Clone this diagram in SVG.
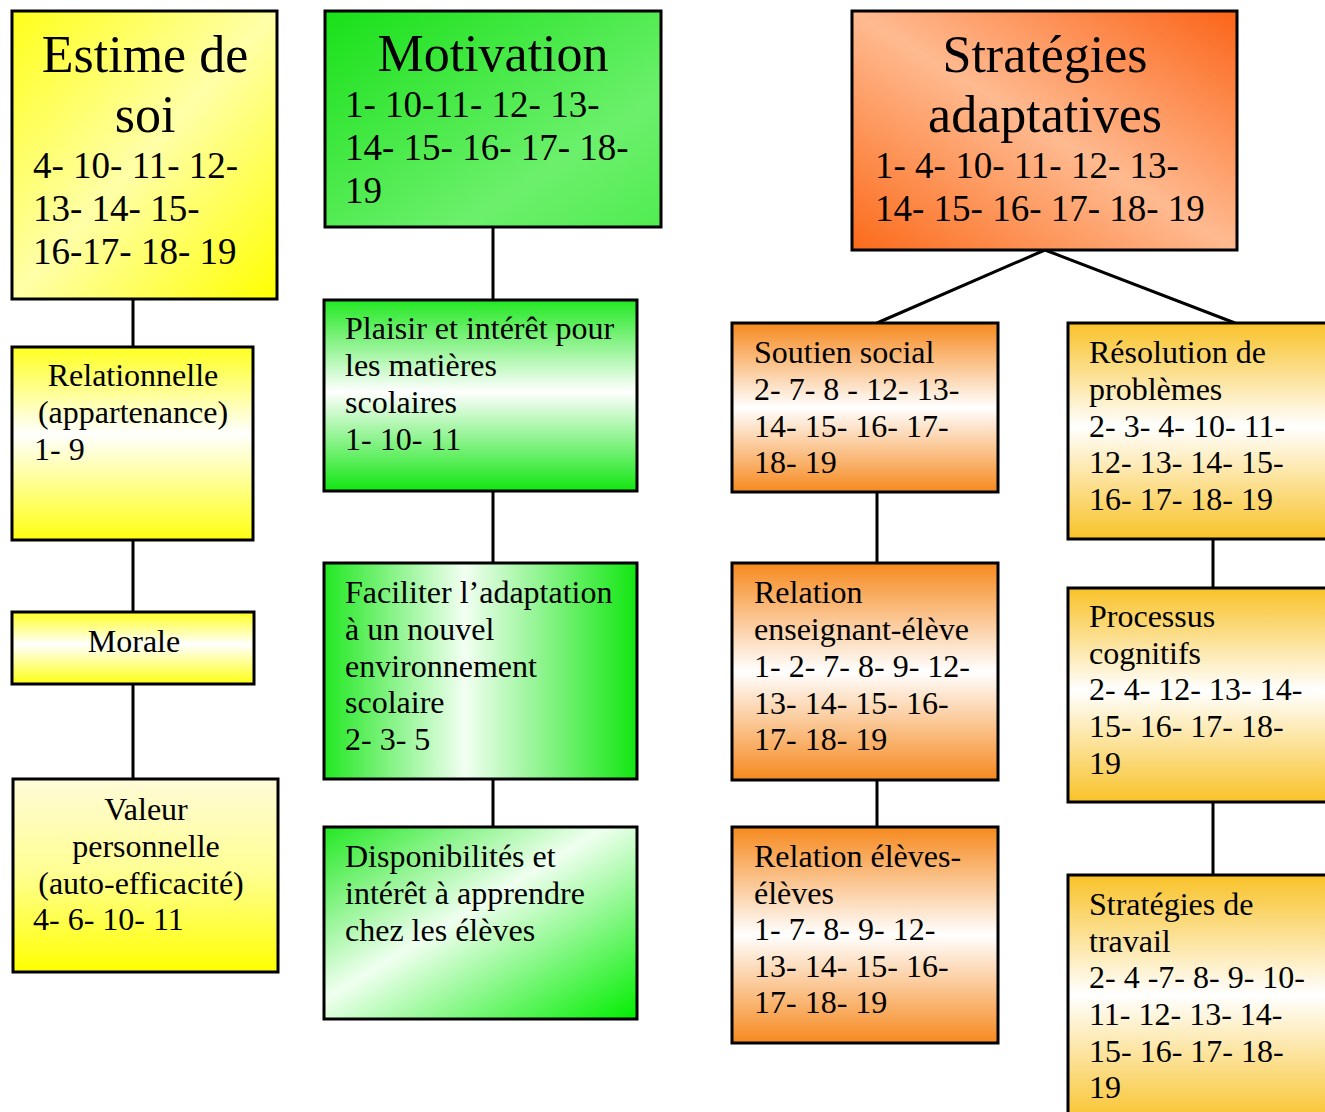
<svg xmlns="http://www.w3.org/2000/svg" width="1325" height="1112" viewBox="0 0 1325 1112">
<style>
.box{stroke:#000;stroke-width:3}
.t{font-family:'Liberation Serif','Times New Roman',Tinos,'DejaVu Serif',serif;fill:#000}
.h{font-size:52px;text-anchor:middle}
.n{font-size:37px}
.s{font-size:32px}
.c{text-anchor:middle}
.ln{stroke:#000;stroke-width:3;fill:none}
</style>
<defs>
<linearGradient id="gEst" x1="0" y1="0" x2="1" y2="1">
<stop offset="0" stop-color="#ffff1a"/><stop offset="0.5" stop-color="#ffffa8"/><stop offset="1" stop-color="#ffff00"/>
</linearGradient>
<linearGradient id="gYv" x1="0" y1="0" x2="0" y2="1">
<stop offset="0" stop-color="#ffff20"/><stop offset="0.45" stop-color="#ffffff"/><stop offset="1" stop-color="#ffff10"/>
</linearGradient>
<linearGradient id="gYdown" x1="0" y1="0" x2="0" y2="1">
<stop offset="0" stop-color="#fffbd8"/><stop offset="0.5" stop-color="#ffff90"/><stop offset="1" stop-color="#ffff00"/>
</linearGradient>
<linearGradient id="gMot" x1="0" y1="0" x2="1" y2="1">
<stop offset="0" stop-color="#18e018"/><stop offset="0.7" stop-color="#6cf06c"/><stop offset="1" stop-color="#50ec50"/>
</linearGradient>
<linearGradient id="gGv" x1="0" y1="0" x2="0" y2="1">
<stop offset="0" stop-color="#22e822"/><stop offset="0.48" stop-color="#ffffff"/><stop offset="1" stop-color="#11e611"/>
</linearGradient>
<linearGradient id="gGh" x1="0" y1="0" x2="1" y2="0">
<stop offset="0" stop-color="#22e822"/><stop offset="0.45" stop-color="#f2fff2"/><stop offset="1" stop-color="#11e611"/>
</linearGradient>
<linearGradient id="gGd" x1="0" y1="0" x2="1" y2="1">
<stop offset="0" stop-color="#22e822"/><stop offset="0.45" stop-color="#f0fff0"/><stop offset="1" stop-color="#00ee00"/>
</linearGradient>
<linearGradient id="gStr" x1="0" y1="1" x2="1" y2="0">
<stop offset="0" stop-color="#fb6a1a"/><stop offset="0.5" stop-color="#ffba90"/><stop offset="1" stop-color="#fb6418"/>
</linearGradient>
<linearGradient id="gOv" x1="0" y1="0" x2="0" y2="1">
<stop offset="0" stop-color="#f6891e"/><stop offset="0.5" stop-color="#ffffff"/><stop offset="1" stop-color="#f6891e"/>
</linearGradient>
<linearGradient id="gGoldv" x1="0" y1="0" x2="0" y2="1">
<stop offset="0" stop-color="#f9c228"/><stop offset="0.48" stop-color="#ffffff"/><stop offset="1" stop-color="#f9c228"/>
</linearGradient>
</defs>
<rect width="1325" height="1112" fill="#ffffff"/>

<g id="connectors">
<line class="ln" x1="133" y1="299" x2="133" y2="347"/>
<line class="ln" x1="133" y1="540" x2="133" y2="612"/>
<line class="ln" x1="133" y1="684" x2="133" y2="779"/>
<line class="ln" x1="493" y1="227" x2="493" y2="300"/>
<line class="ln" x1="493" y1="491" x2="493" y2="563"/>
<line class="ln" x1="493" y1="779" x2="493" y2="827"/>
<line class="ln" x1="1045" y1="250" x2="877" y2="323"/>
<line class="ln" x1="1045" y1="250" x2="1235" y2="323"/>
<line class="ln" x1="877" y1="492" x2="877" y2="563"/>
<line class="ln" x1="877" y1="780" x2="877" y2="827"/>
<line class="ln" x1="1213" y1="539" x2="1213" y2="588"/>
<line class="ln" x1="1213" y1="802" x2="1213" y2="875"/>
</g>

<g id="estime">
<rect class="box" x="12" y="11" width="265" height="288" fill="url(#gEst)"/>
<text class="t h" x="145" y="72">Estime de</text>
<text class="t h" x="145" y="132">soi</text>
<text class="t n" x="33" y="178">4- 10- 11- 12-</text>
<text class="t n" x="33" y="221">13- 14- 15-</text>
<text class="t n" x="33" y="264">16-17- 18- 19</text>
</g>

<g id="motivation">
<rect class="box" x="325" y="11" width="336" height="216" fill="url(#gMot)"/>
<text class="t h" x="493" y="71">Motivation</text>
<text class="t n" x="345" y="117">1- 10-11- 12- 13-</text>
<text class="t n" x="345" y="160">14- 15- 16- 17- 18-</text>
<text class="t n" x="345" y="203">19</text>
</g>

<g id="strategies">
<rect class="box" x="852" y="11" width="385" height="239" fill="url(#gStr)"/>
<text class="t h" x="1045" y="72">Stratégies</text>
<text class="t h" x="1045" y="132">adaptatives</text>
<text class="t n" x="875" y="178">1- 4- 10- 11- 12- 13-</text>
<text class="t n" x="875" y="221">14- 15- 16- 17- 18- 19</text>
</g>

<g id="relationnelle">
<rect class="box" x="12" y="347" width="241" height="193" fill="url(#gYv)"/>
<text class="t s c" x="133" y="386">Relationnelle</text>
<text class="t s c" x="133" y="423">(appartenance)</text>
<text class="t s" x="34" y="460">1- 9</text>
</g>

<g id="morale">
<rect class="box" x="12" y="612" width="242" height="72" fill="url(#gYv)"/>
<text class="t s c" x="134" y="652">Morale</text>
</g>

<g id="valeur">
<rect class="box" x="13" y="779" width="265" height="193" fill="url(#gYdown)"/>
<text class="t s c" x="146" y="820">Valeur</text>
<text class="t s c" x="146" y="857">personnelle</text>
<text class="t s c" x="141" y="894">(auto-efficacité)</text>
<text class="t s" x="33" y="930">4- 6- 10- 11</text>
</g>

<g id="plaisir">
<rect class="box" x="324" y="300" width="313" height="191" fill="url(#gGv)"/>
<text class="t s" x="345" y="339">Plaisir et intérêt pour</text>
<text class="t s" x="345" y="376">les matières</text>
<text class="t s" x="345" y="413">scolaires</text>
<text class="t s" x="345" y="450">1- 10- 11</text>
</g>

<g id="faciliter">
<rect class="box" x="324" y="563" width="313" height="216" fill="url(#gGh)"/>
<text class="t s" x="345" y="603">Faciliter l’adaptation</text>
<text class="t s" x="345" y="640">à un nouvel</text>
<text class="t s" x="345" y="677">environnement</text>
<text class="t s" x="345" y="713">scolaire</text>
<text class="t s" x="345" y="750">2- 3- 5</text>
</g>

<g id="disponibilites">
<rect class="box" x="324" y="827" width="313" height="192" fill="url(#gGd)"/>
<text class="t s" x="345" y="867">Disponibilités et</text>
<text class="t s" x="345" y="904">intérêt à apprendre</text>
<text class="t s" x="345" y="941">chez les élèves</text>
</g>

<g id="soutien">
<rect class="box" x="732" y="323" width="266" height="169" fill="url(#gOv)"/>
<text class="t s" x="754" y="363">Soutien social</text>
<text class="t s" x="754" y="400">2- 7- 8 - 12- 13-</text>
<text class="t s" x="754" y="437">14- 15- 16- 17-</text>
<text class="t s" x="754" y="473">18- 19</text>
</g>

<g id="enseignant">
<rect class="box" x="732" y="563" width="266" height="217" fill="url(#gOv)"/>
<text class="t s" x="754" y="603">Relation</text>
<text class="t s" x="754" y="640">enseignant-élève</text>
<text class="t s" x="754" y="677">1- 2- 7- 8- 9- 12-</text>
<text class="t s" x="754" y="714">13- 14- 15- 16-</text>
<text class="t s" x="754" y="750">17- 18- 19</text>
</g>

<g id="eleves">
<rect class="box" x="732" y="827" width="266" height="216" fill="url(#gOv)"/>
<text class="t s" x="754" y="867">Relation élèves-</text>
<text class="t s" x="754" y="904">élèves</text>
<text class="t s" x="754" y="940">1- 7- 8- 9- 12-</text>
<text class="t s" x="754" y="977">13- 14- 15- 16-</text>
<text class="t s" x="754" y="1013">17- 18- 19</text>
</g>

<g id="resolution">
<rect class="box" x="1068" y="323" width="270" height="216" fill="url(#gGoldv)"/>
<text class="t s" x="1089" y="363">Résolution de</text>
<text class="t s" x="1089" y="400">problèmes</text>
<text class="t s" x="1089" y="437">2- 3- 4- 10- 11-</text>
<text class="t s" x="1089" y="473">12- 13- 14- 15-</text>
<text class="t s" x="1089" y="510">16- 17- 18- 19</text>
</g>

<g id="processus">
<rect class="box" x="1068" y="588" width="270" height="214" fill="url(#gGoldv)"/>
<text class="t s" x="1089" y="627">Processus</text>
<text class="t s" x="1089" y="664">cognitifs</text>
<text class="t s" x="1089" y="700">2- 4- 12- 13- 14-</text>
<text class="t s" x="1089" y="737">15- 16- 17- 18-</text>
<text class="t s" x="1089" y="774">19</text>
</g>

<g id="travail">
<rect class="box" x="1068" y="875" width="270" height="250" fill="url(#gGoldv)"/>
<text class="t s" x="1089" y="915">Stratégies de</text>
<text class="t s" x="1089" y="952">travail</text>
<text class="t s" x="1089" y="988">2- 4 -7- 8- 9- 10-</text>
<text class="t s" x="1089" y="1025">11- 12- 13- 14-</text>
<text class="t s" x="1089" y="1062">15- 16- 17- 18-</text>
<text class="t s" x="1089" y="1098">19</text>
</g>
</svg>
